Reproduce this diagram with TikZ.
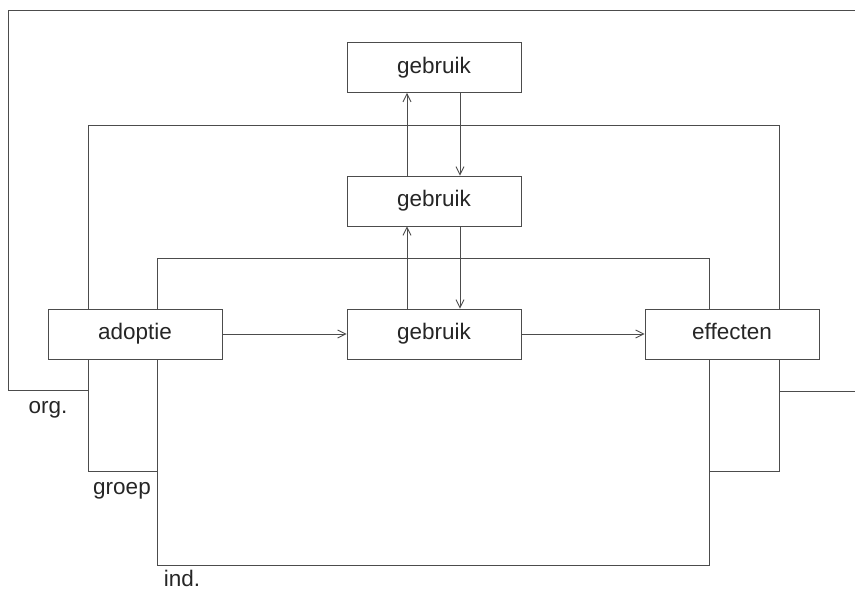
\documentclass[tikz,border=0pt]{standalone}
\usepackage{fontspec}
\setmainfont{Liberation Sans}
\usetikzlibrary{arrows.meta,backgrounds}
\begin{document}
\begin{tikzpicture}[x=1pt,y=-1pt,
  ink/.style={draw=black!70,line width=0.9pt},
  stage/.style={ink,fill=white,minimum width=174pt,minimum height=50pt,
    inner sep=0pt,text height=16pt,text depth=5pt,
    font=\fontsize{22.5}{26}\selectfont,text=black!85},
  lvl/.style={font=\fontsize{22.5}{26}\selectfont,text=black!85,inner sep=1pt},
  arr/.style={ink,-{Straight Barb[length=8pt,width=8pt]}}]
\useasboundingbox (0,0) rectangle (855,592);

% process boxes
\node[stage] (adop) at (135,334) {adoptie};
\node[stage] (g1)   at (434,334) {gebruik};
\node[stage] (g2)   at (434,201) {gebruik};
\node[stage] (g3)   at (434,67.5) {gebruik};
\node[stage] (eff)  at (732,334) {effecten};

% level frames behind the boxes
\begin{pgfonlayer}{background}
  % organisation
  \draw[ink] (88,390) -- (8,390) -- (8,10) -- (855,10);
  \draw[ink] (779,391) -- (855,391);
  % group
  \draw[ink] (157,471) -- (88,471) -- (88,125) -- (779,125) -- (779,471) -- (709,471);
  % individual
  \draw[ink] (157,258) rectangle (709,565);
\end{pgfonlayer}

% level labels
\node[lvl] (lorg) at (48,410) {org.};
\node[lvl] (lgrp) at (122,491) {groep};
\node[lvl] (lind) at (182,578) {ind.};

% flows
\draw[arr] (adop.east) -- (g1.west);
\draw[arr] (g1.east) -- (eff.west);
\draw[arr] ([xshift=-27pt]g1.north) -- ([xshift=-27pt]g2.south);
\draw[arr] ([xshift=-27pt]g2.north) -- ([xshift=-27pt]g3.south);
\draw[arr] ([xshift=26pt]g3.south) -- ([xshift=26pt]g2.north);
\draw[arr] ([xshift=26pt]g2.south) -- ([xshift=26pt]g1.north);
\end{tikzpicture}
\end{document}
